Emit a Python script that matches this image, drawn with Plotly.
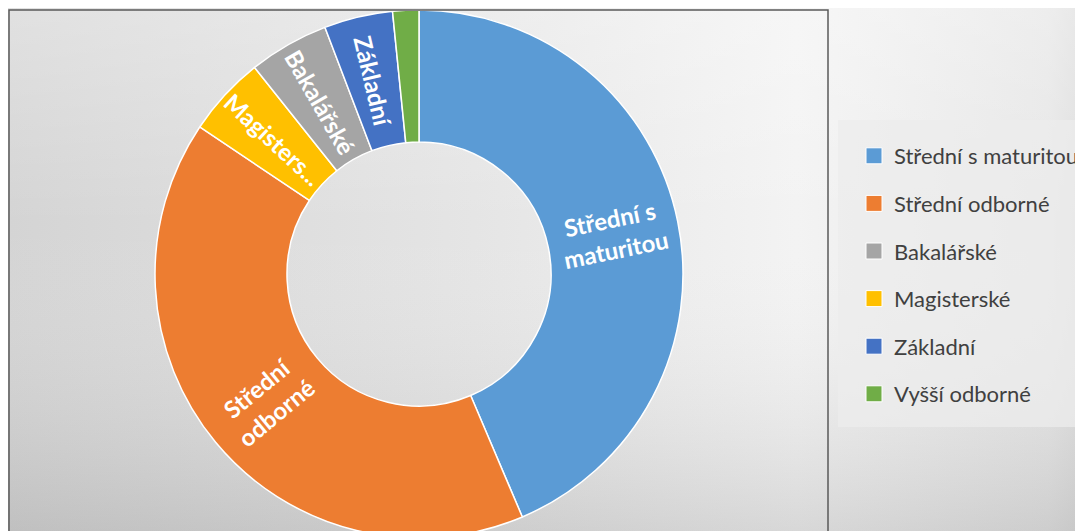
import math
import plotly.graph_objects as go

# slices in drawing order (clockwise from 12 o'clock)
labels = ["Střední s maturitou", "Střední odborné", "Magisterské",
          "Bakalářské", "Základní", "Vyšší odborné"]
values = [43.6, 40.8, 4.9, 4.9, 4.2, 1.6]
slice_text = ["Střední s<br>maturitou", "Střední<br>odborné", "Magisters...",
              "Bakalářské", "Základní", ""]

# legend order as in the original chart
legend_labels = ["Střední s maturitou", "Střední odborné", "Bakalářské",
                 "Magisterské", "Základní", "Vyšší odborné"]

COLORS = {
    "Střední s maturitou": "#5B9BD5",
    "Střední odborné": "#ED7D31",
    "Bakalářské": "#A5A5A5",
    "Magisterské": "#FFC000",
    "Základní": "#4472C4",
    "Vyšší odborné": "#70AD47",
}

# page body adds an 8px offset, so the figure is laid out in shifted pixels
W, H = 1095, 540
FONT = "Lato, Calibri, sans-serif"
HOLE = 0.5

fig = go.Figure()

# soft grey background (left/bottom darker, top/right lighter)
fig.add_trace(go.Scatter(
    x=[0, 1, 1, 0, 0], y=[0, 0, 1, 1, 0],
    mode="lines", line=dict(width=0), fill="toself",
    fillgradient=dict(type="horizontal",
                      colorscale=[[0, "#d4d4d4"], [0.45, "#e6e6e6"], [0.72, "#f3f3f3"],
                                  [0.95, "#e6e6e6"], [1, "#d9d9d9"]]),
    hoverinfo="skip", showlegend=False,
))
fig.add_trace(go.Scatter(
    x=[0, 1, 1, 0, 0], y=[0, 0, 1, 1, 0],
    mode="lines", line=dict(width=0), fill="toself",
    fillgradient=dict(type="vertical",
                      colorscale=[[0, "rgba(120,120,120,0.25)"], [0.6, "rgba(255,255,255,0)"],
                                  [1, "rgba(255,255,255,0.3)"]]),
    hoverinfo="skip", showlegend=False,
))

# legend entries (legend order differs from slice order)
for name in legend_labels:
    fig.add_trace(go.Scatter(
        x=[None], y=[None], mode="markers", name=name, legendgroup=name,
        marker=dict(symbol="square", size=17, color=COLORS[name],
                    line=dict(color="white", width=1)),
    ))

cx, cy, r = 411, 266, 264   # px, cy measured from top
fig.add_trace(go.Pie(
    labels=labels, values=values, textinfo="none",
    marker=dict(colors=[COLORS[l] for l in labels], line=dict(color="white", width=1.5)),
    hole=HOLE, sort=False, direction="clockwise", rotation=0,
    domain=dict(x=[(cx - r) / W, (cx + r) / W], y=[(H - cy - r) / H, (H - cy + r) / H]),
    showlegend=False,
    hovertemplate="%{label}: %{percent}<extra></extra>",
))

# slice labels, rotated radially like the original
annotations = []
total = sum(values)
start = 0.0
r_text = r * (1 + HOLE) / 2
for v, t in zip(values, slice_text):
    mid = (start + v / 2) / total * 360
    start += v
    if not t:
        continue
    a = math.radians(mid)
    px, py = cx + r_text * math.sin(a), cy - r_text * math.cos(a)
    ang = mid - 90
    if ang > 90:
        ang -= 180
    annotations.append(dict(
        x=px / W, y=(H - py) / H, xref="paper", yref="paper",
        text=f"<b>{t}</b>", showarrow=False, textangle=ang,
        xanchor="center", yanchor="middle",
        font=dict(family=FONT, size=24, color="white"),
    ))

fig.update_layout(
    width=W, height=H,
    margin=dict(l=0, r=0, t=0, b=0),
    paper_bgcolor="#e4e4e4",
    plot_bgcolor="rgba(0,0,0,0)",
    font=dict(family=FONT, size=22, color="#404040"),
    xaxis=dict(range=[0, 1], visible=False, fixedrange=True, domain=[0, 1]),
    yaxis=dict(range=[0, 1], visible=False, fixedrange=True, domain=[0, 1]),
    showlegend=True,
    legend=dict(
        x=846 / W, xanchor="left", y=(H - 127) / H, yanchor="top",
        bgcolor="rgba(0,0,0,0)", borderwidth=0,
        tracegroupgap=16, itemclick=False, itemdoubleclick=False,
        font=dict(family=FONT, size=22, color="#404040"),
    ),
    annotations=annotations,
    shapes=[
        # legend panel
        dict(type="rect", xref="paper", yref="paper", layer="above",
             x0=830 / W, x1=1.0, y0=(H - 419) / H, y1=(H - 112) / H,
             fillcolor="rgba(236,236,236,0.75)", line=dict(width=0)),
        # chart frame
        dict(type="rect", xref="paper", yref="paper", layer="above",
             x0=1 / W, x1=820 / W, y0=-0.05, y1=(H - 2) / H,
             fillcolor="rgba(0,0,0,0)", line=dict(color="#595959", width=1.5)),
    ],
)

fig.write_html("out.html")
